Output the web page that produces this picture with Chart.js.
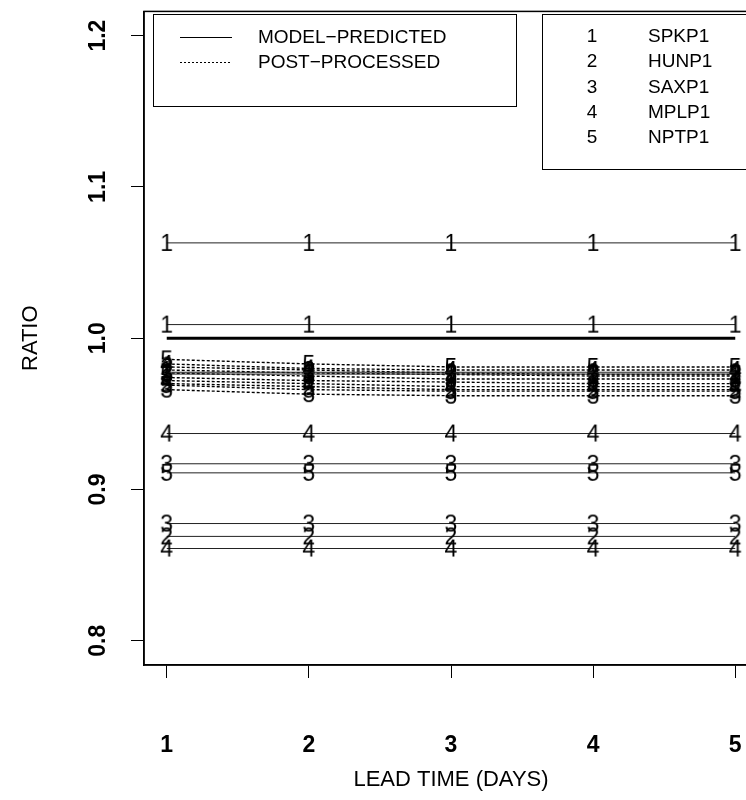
<!DOCTYPE html>
<html>
<head>
<meta charset="utf-8">
<title>Ratio by lead time</title>
<script src="https://cdn.jsdelivr.net/npm/chart.js@4.4.1/dist/chart.umd.min.js"></script>
<style>
  html, body { margin: 0; padding: 0; background: #fff; overflow: hidden; }
  canvas { display: block; }
</style>
</head>
<body>
<canvas id="ratio-chart" width="780" height="800"></canvas>
<script>
const leadDays = [1, 2, 3, 4, 5];
const xTicks = [1, 2, 3, 4, 5];
const yTicks = [0.8, 0.9, 1.0, 1.1, 1.2];
const stationIds = ['1', '2', '3', '4', '5'];
const stationNames = ['SPKP1', 'HUNP1', 'SAXP1', 'MPLP1', 'NPTP1'];
const seriesTypes = ['MODEL\u2212PREDICTED', 'POST\u2212PROCESSED'];

// model-predicted (solid)
const modelSPKP1a = [1.063, 1.063, 1.063, 1.063, 1.063];
const modelSPKP1b = [1.009, 1.009, 1.009, 1.009, 1.009];
const modelHUNP1a = [0.9775, 0.9775, 0.9775, 0.9775, 0.9775];
const modelHUNP1b = [0.869, 0.869, 0.869, 0.869, 0.869];
const modelSAXP1a = [0.917, 0.917, 0.917, 0.917, 0.917];
const modelSAXP1b = [0.8775, 0.8775, 0.8775, 0.8775, 0.8775];
const modelMPLP1a = [0.937, 0.937, 0.937, 0.937, 0.937];
const modelMPLP1b = [0.861, 0.861, 0.861, 0.861, 0.861];
const modelNPTP1a = [0.9763, 0.9763, 0.9763, 0.9763, 0.9763];
const modelNPTP1b = [0.911, 0.911, 0.911, 0.911, 0.911];

// post-processed (dotted)
const postSPKP1a = [0.979, 0.977, 0.976, 0.975, 0.975];
const postSPKP1b = [0.974, 0.972, 0.971, 0.970, 0.970];
const postHUNP1a = [0.981, 0.979, 0.977, 0.976, 0.976];
const postHUNP1b = [0.970, 0.968, 0.966, 0.966, 0.966];
const postSAXP1a = [0.977, 0.975, 0.973, 0.973, 0.973];
const postSAXP1b = [0.966, 0.963, 0.962, 0.962, 0.962];
const postMPLP1a = [0.983, 0.980, 0.979, 0.979, 0.979];
const postMPLP1b = [0.972, 0.970, 0.968, 0.968, 0.968];
const postNPTP1a = [0.986, 0.983, 0.981, 0.981, 0.981];
const postNPTP1b = [0.969, 0.966, 0.965, 0.965, 0.965];

const referenceDays = [1, 5];
const referenceRatio = [1.0, 1.0];

const FONT = '"Liberation Sans", Arial, Helvetica, sans-serif';

function toPoints(days, values) {
    return values.map((v, i) => ({ x: days[i], y: v }));
}

function makeGlyph(text) {
    const c = document.createElement('canvas');
    c.width = 26;
    c.height = 30;
    const g = c.getContext('2d');
    g.font = '23px ' + FONT;
    g.fillStyle = '#000';
    g.textAlign = 'center';
    g.textBaseline = 'alphabetic';
    g.fillText(text, 13, 23);
    return c;
}
const glyphs = stationIds.map(makeGlyph);

function seriesLine(station, values, dotted) {
    return {
        data: toPoints(leadDays, values),
        borderColor: dotted ? '#000' : '#222',
        borderWidth: dotted ? 1.4 : 1,
        borderDash: dotted ? [3, 2] : [],
        pointStyle: glyphs[station - 1],
        pointRadius: 10,
        pointHoverRadius: 10,
        fill: false,
        tension: 0
    };
}

const datasets = [
    seriesLine(1, modelSPKP1a, false),
    seriesLine(1, modelSPKP1b, false),
    seriesLine(2, modelHUNP1a, false),
    seriesLine(2, modelHUNP1b, false),
    seriesLine(3, modelSAXP1a, false),
    seriesLine(3, modelSAXP1b, false),
    seriesLine(4, modelMPLP1a, false),
    seriesLine(4, modelMPLP1b, false),
    seriesLine(5, modelNPTP1a, false),
    seriesLine(5, modelNPTP1b, false),
    seriesLine(1, postSPKP1a, true),
    seriesLine(1, postSPKP1b, true),
    seriesLine(2, postHUNP1a, true),
    seriesLine(2, postHUNP1b, true),
    seriesLine(3, postSAXP1a, true),
    seriesLine(3, postSAXP1b, true),
    seriesLine(4, postMPLP1a, true),
    seriesLine(4, postMPLP1b, true),
    seriesLine(5, postNPTP1a, true),
    seriesLine(5, postNPTP1b, true),
    {
        data: toPoints(referenceDays, referenceRatio),
        borderColor: '#000',
        borderWidth: 3,
        pointRadius: 0,
        fill: false
    }
];

// plot frame + the two R style legends
const framePlugin = {
    id: 'frame',
    afterDraw(chart) {
        const { ctx, chartArea: a } = chart;
        ctx.save();
        ctx.strokeStyle = '#000';
        ctx.lineWidth = 1.5;
        ctx.strokeRect(a.left, a.top, a.right - a.left, a.bottom - a.top);

        ctx.lineWidth = 1;
        ctx.fillStyle = '#fff';
        ctx.fillRect(153.5, 14.5, 363, 92);
        ctx.strokeRect(153.5, 14.5, 363, 92);
        ctx.fillRect(542.5, 14.5, 240, 155);
        ctx.strokeRect(542.5, 14.5, 240, 155);

        ctx.fillStyle = '#000';
        ctx.font = '19px ' + FONT;
        ctx.textBaseline = 'middle';

        seriesTypes.forEach((label, i) => {
            const y = 37.5 + i * 25;
            ctx.beginPath();
            ctx.setLineDash(i === 0 ? [] : [2, 2]);
            ctx.moveTo(180, y);
            ctx.lineTo(232, y);
            ctx.stroke();
            ctx.textAlign = 'left';
            ctx.fillText(label, 258, y);
        });
        ctx.setLineDash([]);

        stationNames.forEach((name, i) => {
            const y = 37 + i * 25.25;
            ctx.textAlign = 'center';
            ctx.fillText(stationIds[i], 592, y);
            ctx.textAlign = 'left';
            ctx.fillText(name, 648, y);
        });
        ctx.restore();
    }
};

const axisGrid = {
    drawOnChartArea: false,
    drawTicks: true,
    tickLength: 13,
    color: '#000',
    lineWidth: 1
};

function noPadding(s) {
    s.paddingTop = 0;
    s.paddingBottom = 0;
    s.paddingLeft = 0;
    s.paddingRight = 0;
}

new Chart(document.getElementById('ratio-chart').getContext('2d'), {
    type: 'line',
    data: { datasets },
    plugins: [framePlugin],
    options: {
        responsive: false,
        animation: false,
        events: [],
        layout: { padding: { top: 8, right: 22, bottom: 0, left: 0 } },
        plugins: {
            legend: { display: false },
            tooltip: { enabled: false }
        },
        scales: {
            x: {
                type: 'linear',
                min: 0.84,
                max: 5.16,
                afterBuildTicks: s => { s.ticks = xTicks.map(v => ({ value: v })); },
                afterFit: s => { s.height = 135; noPadding(s); },
                grid: axisGrid,
                border: { display: true, color: '#000', width: 1.5 },
                ticks: {
                    autoSkip: false,
                    maxRotation: 0,
                    color: '#000',
                    padding: 54,
                    font: { family: FONT, size: 23, weight: 'bold' },
                    callback: v => String(v)
                },
                title: {
                    display: true,
                    text: 'LEAD TIME (DAYS)',
                    color: '#000',
                    font: { family: FONT, size: 22 },
                    padding: { top: 0, bottom: 7 }
                }
            },
            y: {
                type: 'linear',
                min: 0.784,
                max: 1.216,
                afterBuildTicks: s => { s.ticks = yTicks.map(v => ({ value: v })); },
                afterFit: s => { s.width = 144; noPadding(s); },
                grid: axisGrid,
                border: { display: true, color: '#000', width: 1.5 },
                ticks: {
                    autoSkip: false,
                    minRotation: 90,
                    maxRotation: 90,
                    crossAlign: 'center',
                    color: '#000',
                    padding: 16,
                    font: { family: FONT, size: 23, weight: 'bold' },
                    callback: v => v.toFixed(1)
                },
                title: {
                    display: true,
                    text: 'RATIO',
                    color: '#000',
                    font: { family: FONT, size: 22 },
                    padding: { top: 18, bottom: 0 }
                }
            }
        }
    }
});
</script>
</body>
</html>
